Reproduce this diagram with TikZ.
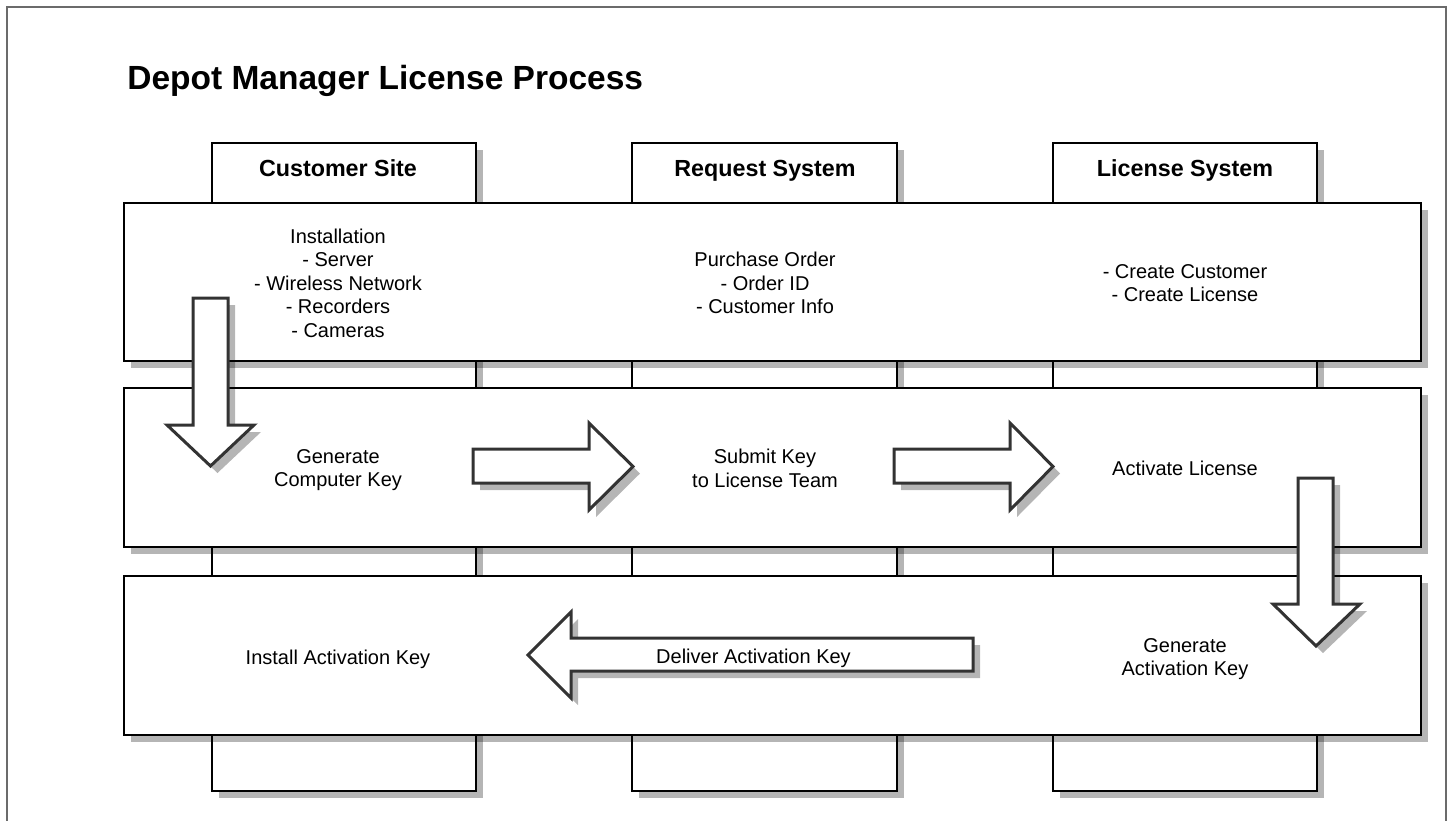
\documentclass[tikz,border=0pt]{standalone}
\usepackage{fontspec}
\setmainfont{Liberation Sans}
\usetikzlibrary{positioning}

\begin{document}
\begin{tikzpicture}[
  x=0.5pt, y=-0.5pt,
  shade/.style={preaction={fill=black, opacity=0.29, transform canvas={shift={(3.5pt,-3.5pt)}}}},
  lane/.style={draw=black, line width=0.8pt, fill=white, shade, inner sep=0pt},
  head/.style={font=\fontsize{11.65}{14}\selectfont\bfseries, anchor=base, inner sep=0pt},
  txt/.style={font=\fontsize{10}{11.75}\selectfont, align=center, inner sep=0pt},
  blockarrow/.style={draw=black!80, line width=1.5pt, fill=white, shade, line join=miter}
]
\useasboundingbox (0,0) rectangle (1450,820);
\draw[black!58, line width=1pt] (7,830) -- (7,7) -- (1446,7) -- (1446,830);
\node[font=\fontsize{16.75}{20}\selectfont\bfseries, anchor=base west, inner sep=0pt] (title) at (127,89.5) {Depot Manager License Process};

\node[lane, minimum width=132pt, minimum height=324pt] (cust) at (344,467) {};
\node[lane, minimum width=132.5pt, minimum height=324pt] (req) at (764.5,467) {};
\node[lane, minimum width=132pt, minimum height=324pt] (lic) at (1185,467) {};
\node[head] (custhead) at (338,176.5) {Customer Site};
\node[head] (reqhead) at (765,176.5) {Request System};
\node[head] (lichead) at (1185,176.5) {License System};

\node[lane, minimum width=648.5pt, minimum height=79pt] (setup) at (772.5,282) {};
\node[lane, minimum width=648.5pt, minimum height=79.5pt] (keys) at (772.5,467.5) {};
\node[lane, minimum width=648.5pt, minimum height=79.5pt] (deliver) at (772.5,655.5) {};

\node[txt] (install) at (338,283) {Installation\\- Server\\- Wireless Network\\- Recorders\\- Cameras};
\node[txt] (order) at (765,283) {Purchase Order\\- Order ID\\- Customer Info};
\node[txt] (create) at (1185,283) {- Create Customer\\- Create License};
\node[txt] (compkey) at (338,470) {Generate\\Computer Key};
\node[txt] (submit) at (765,468.5) {Submit Key\\to License Team};
\node[txt, anchor=base] (activate) at (1185,475) {Activate License};
\node[txt, anchor=base] (instkey) at (338,664) {Install Activation Key};
\node[txt] (genkey) at (1185,659) {Generate\\Activation Key};

\draw[blockarrow] (193,298) -- (228,298) -- (228,425) -- (254,425) -- (210.5,466) -- (167,425) -- (193,425) -- cycle;
\draw[blockarrow] (473,449) -- (589,449) -- (589,423) -- (633,466.5) -- (589,510) -- (589,483) -- (473,483) -- cycle;
\draw[blockarrow] (894,449) -- (1010,449) -- (1010,423) -- (1053,466.5) -- (1010,510) -- (1010,483) -- (894,483) -- cycle;
\draw[blockarrow] (1298,478) -- (1333,478) -- (1333,604) -- (1360,604) -- (1316,646) -- (1273,604) -- (1298,604) -- cycle;
\draw[blockarrow] (973,638) -- (571,638) -- (571,612) -- (528,655) -- (571,698) -- (571,671) -- (973,671) -- cycle;
\node[txt, anchor=base] (delivery) at (753.5,663) {Deliver Activation Key};
\end{tikzpicture}
\end{document}
